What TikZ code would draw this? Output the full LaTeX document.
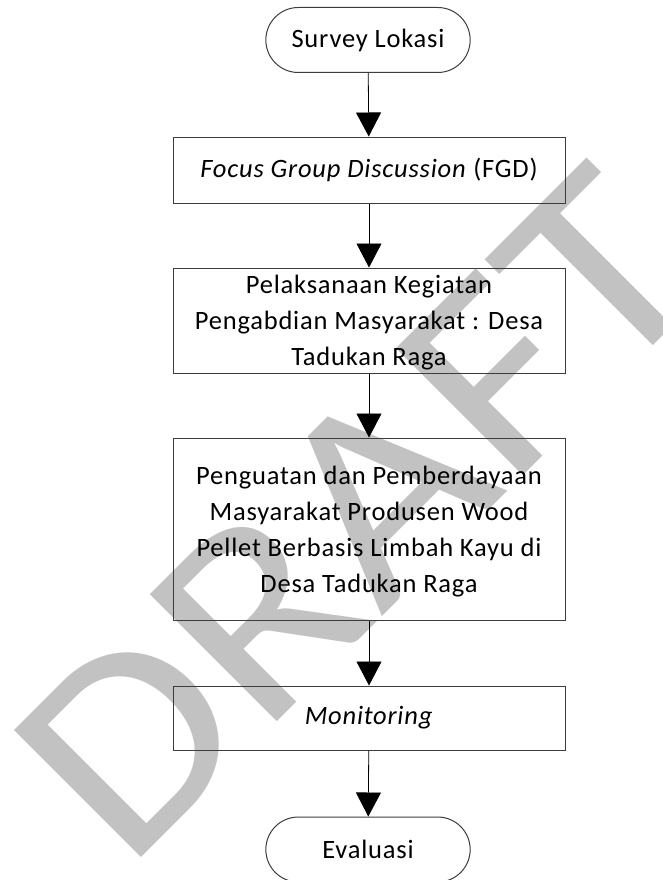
\documentclass[tikz,border=0pt]{standalone}
\usepackage{fontspec}
\setmainfont{Carlito}[LetterSpace=3]
\newfontfamily\draftfont{Carlito}
\usetikzlibrary{arrows.meta,shapes.misc}
\definecolor{draftgray}{RGB}{194,194,194}
\definecolor{linegray}{RGB}{60,60,60}

\begin{document}
\begin{tikzpicture}[x=1pt,y=-1pt,
    stepbox/.style={draw=linegray,line width=1pt,minimum width=392pt,align=center,
      font=\fontsize{26.5}{36}\selectfont},
    endbox/.style={draw=linegray,line width=1pt,rounded rectangle,minimum width=211pt,
      minimum height=65pt,font=\fontsize{26.5}{36}\selectfont},
    flow/.style={draw=black,line width=0.8pt,-{Triangle[width=25pt,length=24pt]}}]
  \clip (0,0) rectangle (662,880);

  \node[rotate=45,text=draftgray,inner sep=0pt,font=\draftfont\fontsize{280}{280}\selectfont] (draft)
    at (358,514) {\scalebox{1.11}[1]{DRAFT}};

  \node[endbox] (survey) at (368,40) {Survey Lokasi};
  \node[stepbox,minimum height=66pt] (fgd) at (369,170) {\textit{Focus Group Discussion} (FGD)};
  \node[stepbox,minimum height=105pt,text depth=-2pt] (pelaksanaan) at (369,320.5)
    {Pelaksanaan Kegiatan\\Pengabdian Masyarakat : Desa\\Tadukan Raga};
  \node[stepbox,minimum height=182pt,text depth=-3pt] (penguatan) at (369,529)
    {Penguatan dan Pemberdayaan\\Masyarakat Produsen Wood\\Pellet Berbasis Limbah Kayu di\\Desa Tadukan Raga};
  \node[stepbox,minimum height=64pt] (monitoring) at (369,718) {\textit{Monitoring}};
  \node[endbox] (evaluasi) at (368,849.5) {Evaluasi};

  \draw[flow] (survey) -- (fgd);
  \draw[flow] (fgd) -- (pelaksanaan);
  \draw[flow] (pelaksanaan) -- (penguatan);
  \draw[flow] (penguatan) -- (monitoring);
  \draw[flow] (monitoring) -- (evaluasi);
\end{tikzpicture}
\end{document}
